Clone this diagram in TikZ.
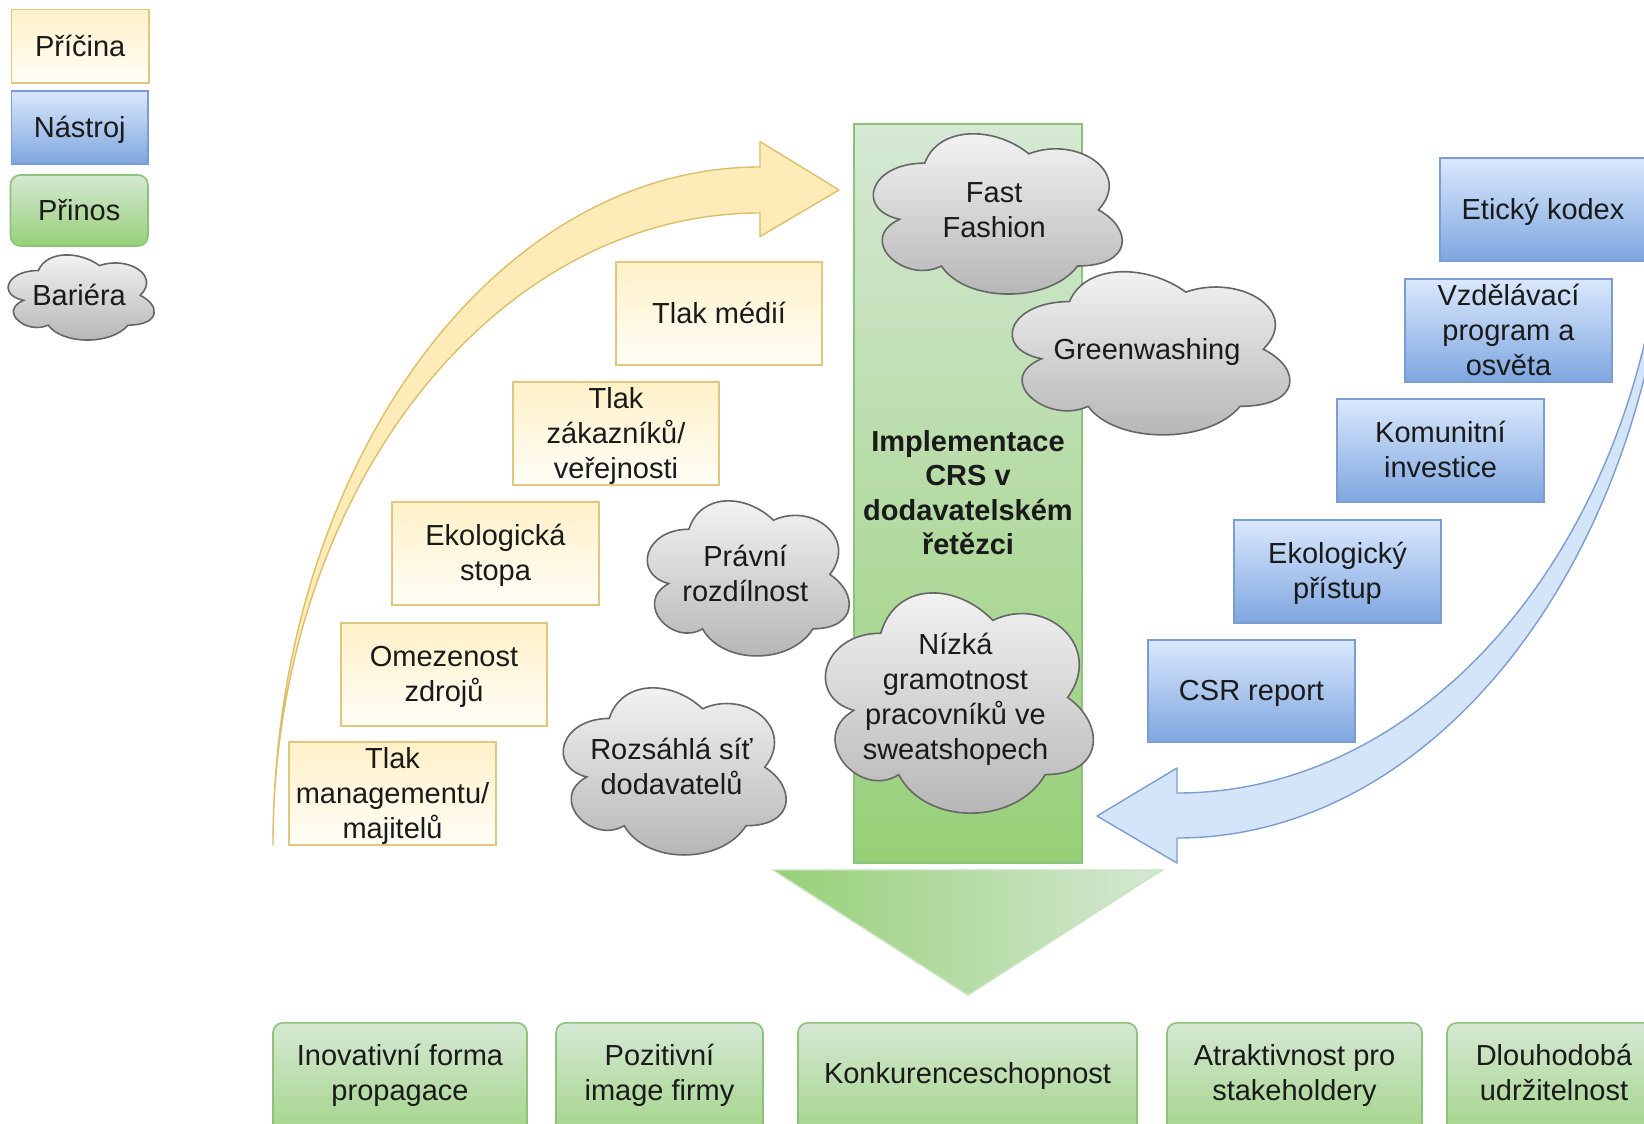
\documentclass[tikz,border=0pt]{standalone}
\usepackage{fontspec}
\setmainfont{Liberation Sans}
\usetikzlibrary{calc}

\definecolor{causeTop}{HTML}{FFF1C8}
\definecolor{causeBot}{HTML}{FFFDF7}
\definecolor{causeLine}{HTML}{E3C67E}
\definecolor{toolTop}{HTML}{DAE8FC}
\definecolor{toolBot}{HTML}{7EA6E0}
\definecolor{toolLine}{HTML}{7B9DD0}
\definecolor{gainTop}{HTML}{D5E8D4}
\definecolor{gainBot}{HTML}{97D077}
\definecolor{gainLine}{HTML}{8CC27A}
\definecolor{cloudTop}{HTML}{F5F5F5}
\definecolor{cloudBot}{HTML}{B3B3B3}
\definecolor{cloudLine}{HTML}{666666}
\definecolor{arrowYellow}{HTML}{FDEBB8}
\definecolor{arrowYellowLine}{HTML}{DDBF6A}
\definecolor{arrowBlue}{HTML}{D4E4F9}
\definecolor{arrowBlueLine}{HTML}{7B9DD0}
\definecolor{inkText}{HTML}{1A1A1A}

% every label gets struts on its first and last line, so that the lines sit
% at the same height whatever letters they contain
\newcommand\lbl[1]{\strut#1\strut}

\tikzset{
  labeltext/.style={font=\fontsize{29}{35}\selectfont, text=inkText, align=center,
    inner sep=0pt},
  textdown/.style={yshift=-2.8pt},
  causebox/.style={rectangle, inner sep=0pt, draw=causeLine, line width=1.6pt,
    top color=causeTop, bottom color=causeBot},
  toolbox/.style={rectangle, inner sep=0pt, draw=toolLine, line width=1.6pt,
    top color=toolTop, bottom color=toolBot},
  gainbox/.style={rectangle, inner sep=0pt, rounded corners=10pt, draw=gainLine, line width=1.6pt,
    top color=gainTop, bottom color=gainBot},
  crsbox/.style={rectangle, inner sep=0pt, draw=gainLine, line width=1.6pt,
    top color=gainTop, bottom color=gainBot},
  cloudbody/.style={draw=cloudLine, line width=1.6pt, top color=cloudTop, bottom color=cloudBot},
  yellowarrow/.style={draw=arrowYellowLine, line width=1.4pt, fill=arrowYellow, line join=round},
  bluearrow/.style={draw=arrowBlueLine, line width=1.4pt, fill=arrowBlue, line join=round},
  downarrow/.style={draw=gainTop!80!gainBot, line width=1.4pt, left color=gainBot, right color=gainTop},
}

% cloud outline fitted into the box (x0,y0) with width w and height h, text centred
% #1 name, #2 x0, #3 y0, #4 w, #5 h, #6 text
\newcommand\cloudnode[6]{%
  \begin{scope}[shift={(#2,#3)}, x=#4pt, y=-#5pt]
    \path[cloudbody] (0.25,0.25)
      .. controls (0.05,0.25) and (0,0.5) .. (0.16,0.55)
      .. controls (0,0.66) and (0.18,0.9) .. (0.31,0.8)
      .. controls (0.4,1) and (0.7,1) .. (0.8,0.8)
      .. controls (1,0.8) and (1,0.6) .. (0.875,0.5)
      .. controls (1,0.3) and (0.8,0.1) .. (0.625,0.2)
      .. controls (0.5,0.05) and (0.3,0.05) .. (0.25,0.25) -- cycle;
    \node[labeltext, textdown] (#1) at (0.5,0.5) {\lbl{#6}};
  \end{scope}%
}

\begin{document}
\begin{tikzpicture}[x=1pt, y=-1pt]
\useasboundingbox (0,0) rectangle (1644,1124);
\clip (0,0) rectangle (1644,1124);
\fill[white] (0,0) rectangle (1644,1124);

% ---- legend ----
\node[causebox, minimum width=137.5, minimum height=73.5] (legCause) at (80.25,46.25) {};
\node[labeltext, textdown] at (legCause.center) {\lbl{Příčina}};
\node[toolbox, minimum width=136.5, minimum height=73] (legTool) at (79.75,127.5) {};
\node[labeltext, textdown] at (legTool.center) {\lbl{Nástroj}};
\node[gainbox, minimum width=137.5, minimum height=71] (legGain) at (79.25,210.5) {};
\node[labeltext, textdown] at (legGain.center) {\lbl{Přinos}};
\cloudnode{legBarrier}{-2.4}{245.7}{163}{99.3}{Bariéra}

% ---- central column ----
\node[crsbox, minimum width=228, minimum height=739] (crs) at (968,493.5) {};
\node[labeltext, font=\fontsize{29}{34.5}\selectfont\bfseries, textdown] (crsText) at (crs.center)
  {\lbl{Implementace\\CRS v\\dodavatelském\\řetězci}};

% ---- rising arrow of causes ----
\filldraw[yellowarrow] (273,845)
  arc[start angle=180, end angle=270, x radius=487, y radius=678]
  -- (760,141.5) -- (839,190) -- (760,236.5) -- (760,213)
  arc[start angle=270, end angle=180, x radius=487, y radius=632] -- cycle;

% ---- causes ----
\node[causebox, minimum width=206, minimum height=103] (media) at (719,313.5) {};
\node[labeltext, textdown] at (media.center) {\lbl{Tlak médií}};
\node[causebox, minimum width=206, minimum height=103] (public) at (616,433.5) {};
\node[labeltext, textdown] at (public.center) {\lbl{Tlak\\zákazníků/\\veřejnosti}};
\node[causebox, minimum width=207, minimum height=103] (footprint) at (495.5,553.5) {};
\node[labeltext, textdown] at (footprint.center) {\lbl{Ekologická\\stopa}};
\node[causebox, minimum width=206, minimum height=103] (resources) at (444,674.5) {};
\node[labeltext, textdown] at (resources.center) {\lbl{Omezenost\\zdrojů}};
\node[causebox, minimum width=207, minimum height=103] (owners) at (392.5,793.5) {};
\node[labeltext, textdown] at (owners.center) {\lbl{Tlak\\managementu/\\majitelů}};

% ---- barriers ----
\cloudnode{legal}{632.6}{484}{225.4}{181}{Právní\\rozdílnost}
\cloudnode{suppliers}{547}{669.7}{248.9}{195}{Rozsáhlá síť\\dodavatelů}
\cloudnode{fastfashion}{855.2}{116.4}{277.9}{187}{Fast\\Fashion}
\cloudnode{greenwashing}{992}{254}{310}{190.4}{Greenwashing}
\cloudnode{literacy}{806}{569}{299}{257}{Nízká\\gramotnost\\pracovníků ve\\sweatshopech}

% ---- returning arrow of tools ----
\filldraw[bluearrow] (1177,793) -- (1177,768) -- (1097,816) -- (1177,863) -- (1177,838)
  arc[start angle=90, end angle=0, x radius=495, y radius=688]
  -- (1667,150)
  arc[start angle=0, end angle=90, x radius=490, y radius=643] -- cycle;

% ---- tools ----
\node[toolbox, minimum width=206, minimum height=103] (code) at (1543,209.5) {};
\node[labeltext, textdown] at (code.center) {\lbl{Etický kodex}};
\node[toolbox, minimum width=207, minimum height=103] (education) at (1508.5,330.5) {};
\node[labeltext, textdown] at (education.center) {\lbl{Vzdělávací\\program a\\osvěta}};
\node[toolbox, minimum width=207, minimum height=103] (community) at (1440.5,450.5) {};
\node[labeltext, textdown] at (community.center) {\lbl{Komunitní\\investice}};
\node[toolbox, minimum width=207, minimum height=103] (ecology) at (1337.5,571.5) {};
\node[labeltext, textdown] at (ecology.center) {\lbl{Ekologický\\přístup}};
\node[toolbox, minimum width=207, minimum height=102] (report) at (1251.5,691) {};
\node[labeltext, textdown] at (report.center) {\lbl{CSR report}};

% ---- outcome arrow ----
\shadedraw[downarrow] (773,870) -- (1162,870) -- (968,995) -- cycle;

% ---- benefits ----
\node[gainbox, minimum width=254, minimum height=140, anchor=north] (promo) at (400,1022) {};
\node[labeltext, textdown] (promoText) at (400,1073.5) {\lbl{Inovativní forma\\propagace}};
\node[gainbox, minimum width=207, minimum height=140, anchor=north] (image) at (659.5,1022) {};
\node[labeltext, textdown] (imageText) at (659.5,1073.5) {\lbl{Pozitivní\\image firmy}};
\node[gainbox, minimum width=339, minimum height=140, anchor=north] (compete) at (967.5,1022) {};
\node[labeltext, textdown] (competeText) at (967.5,1073.5) {\lbl{Konkurenceschopnost}};
\node[gainbox, minimum width=255, minimum height=140, anchor=north] (stake) at (1294.5,1022) {};
\node[labeltext, textdown] (stakeText) at (1294.5,1073.5) {\lbl{Atraktivnost pro\\stakeholdery}};
\node[gainbox, minimum width=214, minimum height=140, anchor=north] (lasting) at (1554,1022) {};
\node[labeltext, textdown] (lastingText) at (1554,1073.5) {\lbl{Dlouhodobá\\udržitelnost}};
\end{tikzpicture}
\end{document}
